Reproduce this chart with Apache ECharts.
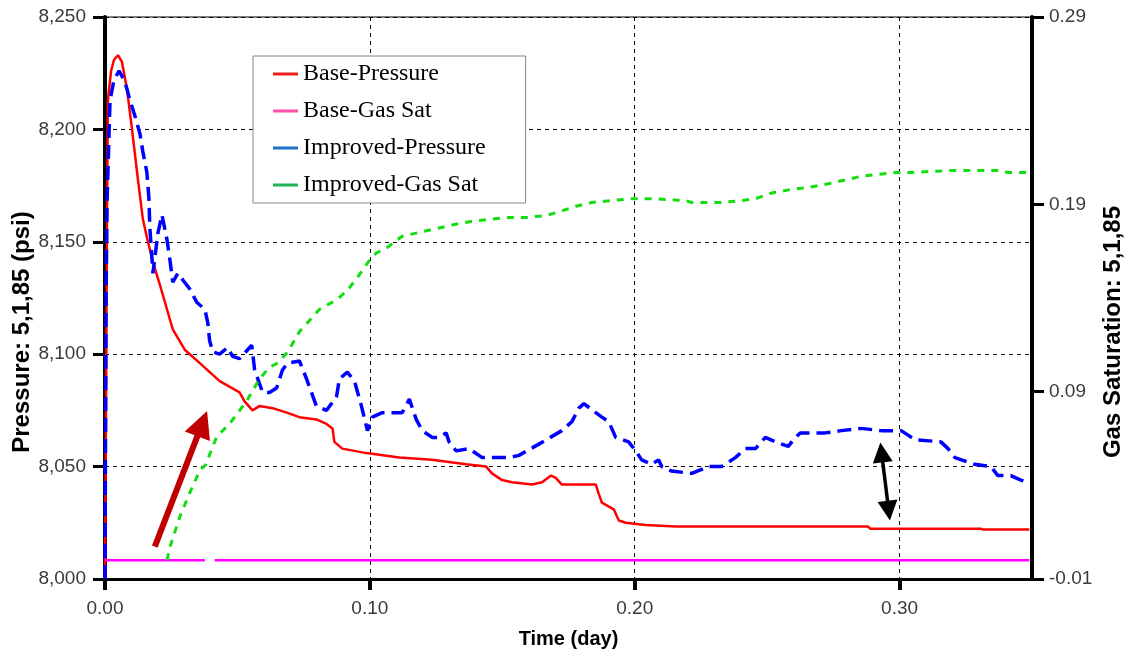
<!DOCTYPE html>
<html>
<head>
<meta charset="utf-8">
<script src="https://cdn.jsdelivr.net/npm/echarts@6/dist/echarts.min.js"></script>
<style>
  html, body { margin: 0; padding: 0; background: #fff; }
  #main { width: 1124px; height: 652px; }
</style>
</head>
<body>
<div id="main"></div>
<script>
// tick labels
var xTicks = [0, 0.1, 0.2, 0.3];
var pressureTicks = [8000, 8050, 8100, 8150, 8200, 8250];
var gasTicks = [-0.01, 0.09, 0.19, 0.29];

// series names
var seriesNames = ['Base-Pressure', 'Base-Gas Sat', 'Improved-Pressure', 'Improved-Gas Sat'];

// Base-Pressure [day, psi]
var basePressure = [
    [0, 8000], [0.0004, 8080], [0.0008, 8169], [0.0011, 8213], [0.0023, 8226],
    [0.0034, 8231], [0.0049, 8233], [0.0064, 8230], [0.0083, 8218], [0.0102, 8200],
    [0.0124, 8178], [0.0143, 8160], [0.0162, 8150], [0.0181, 8141], [0.0207, 8131],
    [0.0256, 8111], [0.0301, 8102], [0.0358, 8096], [0.0433, 8088], [0.0508, 8083],
    [0.0527, 8079], [0.0557, 8075], [0.0584, 8077], [0.0633, 8076], [0.0686, 8074],
    [0.0734, 8072], [0.0798, 8071], [0.0836, 8069], [0.0859, 8067], [0.0866, 8061],
    [0.0896, 8058], [0.0987, 8056], [0.1111, 8054], [0.1235, 8053], [0.1363, 8051],
    [0.1439, 8050], [0.1461, 8047], [0.1499, 8044], [0.1537, 8043], [0.1612, 8042],
    [0.1650, 8043], [0.1684, 8046], [0.1702, 8045], [0.1725, 8042], [0.1853, 8042],
    [0.1864, 8038], [0.1876, 8034], [0.1921, 8031], [0.1940, 8026], [0.1966, 8025],
    [0.2041, 8024], [0.2154, 8023.3], [0.2881, 8023.3], [0.2889, 8022.4], [0.3307, 8022.4],
    [0.3315, 8022], [0.349, 8022]
];

// Base-Gas Sat [day, fraction]
var baseGasSat = [
    [0, 0], [0.0377, 0], [0.039, '-'], [0.0414, 0], [0.349, 0]
];

// Improved-Pressure [day, psi]
var improvedPressure = [
    [0, 8000], [0.0004, 8124], [0.0008, 8169], [0.0019, 8213], [0.0034, 8222],
    [0.0053, 8226], [0.0072, 8222], [0.0083, 8218], [0.0094, 8213], [0.0113, 8206],
    [0.0132, 8198], [0.0143, 8190], [0.0158, 8181], [0.0166, 8169], [0.0169, 8157],
    [0.0177, 8143], [0.0181, 8136], [0.0200, 8154], [0.0215, 8162], [0.0234, 8151],
    [0.0245, 8142], [0.0256, 8132], [0.0275, 8136], [0.0294, 8133], [0.0320, 8129],
    [0.0347, 8123], [0.0377, 8120], [0.0388, 8114], [0.0395, 8106], [0.0407, 8101],
    [0.0433, 8100], [0.0463, 8103], [0.0482, 8099], [0.0508, 8098], [0.0554, 8104],
    [0.0565, 8093], [0.0595, 8083], [0.0621, 8083], [0.0648, 8085], [0.0670, 8093],
    [0.0689, 8096], [0.0734, 8097], [0.0761, 8089], [0.0798, 8077], [0.0836, 8075],
    [0.0874, 8081], [0.0885, 8089], [0.0915, 8092], [0.0942, 8088], [0.0968, 8077],
    [0.0991, 8066], [0.1009, 8072], [0.1047, 8074], [0.1122, 8074], [0.1149, 8080],
    [0.1175, 8071], [0.1198, 8066], [0.1235, 8063], [0.1262, 8063], [0.1288, 8065],
    [0.1299, 8061], [0.1326, 8057], [0.1375, 8058], [0.1424, 8054], [0.1488, 8054],
    [0.1525, 8054], [0.1563, 8055], [0.1638, 8060], [0.1725, 8066], [0.1763, 8070],
    [0.1789, 8076], [0.1808, 8078], [0.1853, 8074], [0.1876, 8072], [0.1902, 8070],
    [0.1928, 8063], [0.1977, 8061], [0.2004, 8057], [0.2026, 8053], [0.2064, 8051],
    [0.2090, 8053], [0.2102, 8050], [0.2139, 8048], [0.2215, 8047], [0.2279, 8050],
    [0.2328, 8050], [0.2380, 8054], [0.2418, 8058], [0.2456, 8058], [0.2493, 8063],
    [0.2531, 8061], [0.2580, 8059], [0.2599, 8062], [0.2625, 8065], [0.2719, 8065],
    [0.2780, 8066], [0.2855, 8067], [0.2930, 8066], [0.3006, 8066], [0.3032, 8064],
    [0.3058, 8062], [0.3156, 8061], [0.3183, 8058], [0.3209, 8054], [0.3284, 8051],
    [0.3345, 8050], [0.3371, 8046], [0.3420, 8046], [0.3458, 8044], [0.3484, 8043]
];

// Improved-Gas Sat [day, fraction]
var improvedGasSat = [
    [0.0234, 0.000], [0.0245, 0.007], [0.0282, 0.023], [0.0320, 0.036], [0.0358, 0.048],
    [0.0380, 0.051], [0.0422, 0.066], [0.0471, 0.073], [0.0535, 0.085], [0.0584, 0.097],
    [0.0621, 0.103], [0.0648, 0.105], [0.0689, 0.111], [0.0734, 0.122], [0.0810, 0.134],
    [0.0874, 0.139], [0.0915, 0.144], [0.0953, 0.151], [0.0998, 0.160], [0.1024, 0.164],
    [0.1066, 0.167], [0.1122, 0.173], [0.1186, 0.175], [0.1250, 0.177], [0.1311, 0.179],
    [0.1386, 0.181], [0.1450, 0.182], [0.1525, 0.183], [0.1589, 0.183], [0.1665, 0.184],
    [0.1714, 0.186], [0.1778, 0.189], [0.1838, 0.191], [0.1913, 0.192], [0.1989, 0.193],
    [0.2064, 0.193], [0.2192, 0.192], [0.2215, 0.191], [0.2328, 0.191], [0.2403, 0.192],
    [0.2456, 0.193], [0.2516, 0.196], [0.2591, 0.198], [0.2655, 0.199], [0.2731, 0.201],
    [0.2795, 0.203], [0.2855, 0.205], [0.2919, 0.206], [0.2987, 0.207], [0.3043, 0.207],
    [0.3183, 0.208], [0.3382, 0.208], [0.3409, 0.207], [0.3473, 0.207], [0.3491, 0.207]
];

// annotation arrows [day, psi]
var redArrow = [[0.0188, 8014.4], [0.0367, 8069.1]];
var gapArrow = [[0.2932, 8056.3], [0.2959, 8030.4]];

var myChart = echarts.init(document.getElementById('main'));

var tickFont = { fontFamily: '"Liberation Sans", Arial, sans-serif', fontSize: 19, color: '#3a3a3a' };

var option = {
    animation: false,
    backgroundColor: '#fff',
    grid: {
        left: 105, right: 92, top: 17, bottom: 73,
        outerBoundsMode: 'none',
        containLabel: false,
        show: true, borderColor: '#000', borderWidth: 1, backgroundColor: '#fff'
    },
    legend: {
        orient: 'vertical',
        left: 253, top: 56,
        padding: [5, 40, 5, 20],
        itemGap: 11,
        itemWidth: 25, itemHeight: 3,
        icon: 'rect',
        backgroundColor: '#fff',
        borderColor: '#888', borderWidth: 1, borderRadius: 0,
        textStyle: { fontFamily: '"Liberation Serif", "Times New Roman", serif', fontSize: 24, lineHeight: 26, color: '#000' },
        data: [
            { name: seriesNames[0], itemStyle: { color: '#ee1c1c' } },
            { name: seriesNames[1], itemStyle: { color: '#ff4fa6' } },
            { name: seriesNames[2], itemStyle: { color: '#1d70c8' } },
            { name: seriesNames[3], itemStyle: { color: '#1fb458' } }
        ]
    },
    xAxis: {
        type: 'value', min: 0, max: 0.35, interval: 0.1,
        name: 'Time (day)', nameLocation: 'middle', nameGap: 50,
        nameTextStyle: { fontFamily: 'Arial, "Liberation Sans", sans-serif', fontSize: 20, fontWeight: 'bold', color: '#000' },
        axisLine: { show: true, onZero: false, lineStyle: { color: '#000', width: 3 } },
        axisTick: { show: true, length: 11, customValues: xTicks, lineStyle: { color: '#000', width: 4 } },
        axisLabel: Object.assign({ margin: 20, customValues: xTicks, formatter: function (v) { return v.toFixed(2); } }, tickFont),
        splitLine: { show: true, lineStyle: { color: '#000', type: [4, 4], width: 1 } }
    },
    yAxis: [
        {
            type: 'value', min: 8000, max: 8250, interval: 50, position: 'left',
            name: 'Pressure: 5,1,85 (psi)', nameLocation: 'middle', nameGap: 71, nameRotate: 90,
            nameMoveOverlap: false,
            nameTextStyle: { fontFamily: 'Arial, "Liberation Sans", sans-serif', fontSize: 24, fontWeight: 'bold', color: '#000', padding: [0, 68, 0, 0] },
            axisLine: { show: true, lineStyle: { color: '#000', width: 4 } },
            axisTick: { show: true, length: 12, customValues: pressureTicks, lineStyle: { color: '#000', width: 3 } },
            axisLabel: Object.assign({ margin: 19, customValues: pressureTicks, formatter: function (v) { return v.toLocaleString('en-US'); } }, tickFont),
            splitLine: { show: true, lineStyle: { color: '#000', type: [4, 4], width: 1 } }
        },
        {
            type: 'value', min: -0.01, max: 0.29, position: 'right',
            name: 'Gas Saturation: 5,1,85', nameLocation: 'middle', nameGap: 69, nameRotate: 90,
            nameMoveOverlap: false,
            nameTextStyle: { fontFamily: 'Arial, "Liberation Sans", sans-serif', fontSize: 24, fontWeight: 'bold', color: '#000', padding: [0, 68, 0, 0] },
            axisLine: { show: true, lineStyle: { color: '#000', width: 4 } },
            axisTick: { show: true, length: 12, customValues: gasTicks, lineStyle: { color: '#000', width: 3 } },
            axisLabel: Object.assign({ margin: 17, customValues: gasTicks, formatter: function (v) { return v.toFixed(2); } }, tickFont),
            splitLine: { show: false }
        }
    ],
    series: [
        {
            name: seriesNames[0], type: 'line', yAxisIndex: 0,
            data: basePressure, showSymbol: false, symbol: 'none',
            lineStyle: { color: '#ff0000', width: 2.5 },
            itemStyle: { color: '#ff0000' },
            markLine: {
                silent: true, animation: false,
                label: { show: false },
                emphasis: { disabled: true },
                data: [
                    [
                        { coord: redArrow[0], symbol: 'none', lineStyle: { color: '#c00000', width: 6, type: 'solid' } },
                        { coord: redArrow[1], symbol: 'triangle', symbolSize: 27 }
                    ],
                    [
                        { coord: gapArrow[0], symbol: 'triangle', symbolSize: 20, lineStyle: { color: '#000', width: 3.5, type: 'solid' } },
                        { coord: gapArrow[1], symbol: 'triangle', symbolSize: 20 }
                    ]
                ]
            }
        },
        {
            name: seriesNames[1], type: 'line', yAxisIndex: 1,
            data: baseGasSat, showSymbol: false, symbol: 'none', connectNulls: false,
            lineStyle: { color: '#ff00ff', width: 2.5 },
            itemStyle: { color: '#ff00ff' }
        },
        {
            name: seriesNames[2], type: 'line', yAxisIndex: 0,
            data: improvedPressure, showSymbol: false, symbol: 'none',
            lineStyle: { color: '#0000ff', width: 3.5, type: [14, 7] },
            itemStyle: { color: '#0000ff' }
        },
        {
            name: seriesNames[3], type: 'line', yAxisIndex: 1,
            data: improvedGasSat, showSymbol: false, symbol: 'none',
            lineStyle: { color: '#11dd11', width: 3, type: [7, 7] },
            itemStyle: { color: '#11dd11' }
        }
    ]
};

myChart.setOption(option);
</script>
</body>
</html>
